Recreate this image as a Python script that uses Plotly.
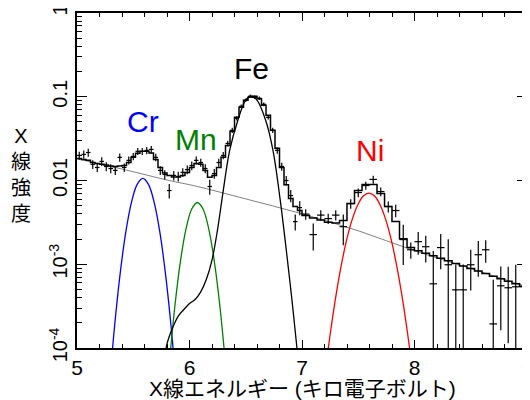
import math
import plotly.graph_objects as go

# ---------------- data ----------------
energy_low = [5.02, 5.06, 5.10, 5.14, 5.18, 5.22, 5.26, 5.30, 5.34, 5.38,
              5.42, 5.46, 5.50, 5.54, 5.58, 5.62, 5.66, 5.70, 5.74, 5.78,
              5.82, 5.86, 5.90, 5.94, 5.98, 6.02, 6.06, 6.10, 6.14, 6.18,
              6.22, 6.26, 6.30, 6.34, 6.38, 6.42, 6.46, 6.50, 6.54, 6.58,
              6.62, 6.66, 6.70, 6.74, 6.78, 6.82, 6.86, 6.90, 6.94, 6.98]
model_low = [0.0183, 0.0178, 0.0174, 0.0164, 0.0160, 0.0156, 0.0153, 0.0149, 0.0147, 0.0149,
             0.0151, 0.0164, 0.0189, 0.0211, 0.0223, 0.0223, 0.0213, 0.0178, 0.0143, 0.0123,
             0.0115, 0.0110, 0.0110, 0.0115, 0.0125, 0.0143, 0.0160, 0.0156, 0.0132, 0.0109,
             0.0115, 0.0143, 0.0189, 0.0262, 0.0386, 0.0568, 0.0748, 0.0908, 0.0987, 0.1014,
             0.0945, 0.0791, 0.0602, 0.0397, 0.0242, 0.0143, 0.0089, 0.00609, 0.00488, 0.00438]
data_low = [0.0199, 0.0205, 0.0216, 0.0156, 0.0143, 0.0169, 0.0147, 0.0139, 0.0132, 0.0189,
            0.0143, 0.0174, 0.0194, 0.0223, 0.0223, 0.0229, 0.0235, 0.0189, 0.0132, 0.0118,
            0.00759, 0.0115, 0.0112, 0.0125, 0.0135, 0.0151, 0.0174, 0.0164, 0.0139, 0.00848,
            0.0121, 0.0164, 0.0199, 0.0277, 0.0397, 0.0553, 0.0769, 0.0908, 0.1014, 0.0987,
            0.0960, 0.0813, 0.0568, 0.0397, 0.0229, 0.0147, 0.0100, 0.00661, 0.00323, 0.00475]
err_low = [0.0022, 0.0023, 0.0024, 0.0019, 0.0017, 0.0020, 0.0018, 0.0017, 0.0016, 0.0021,
           0.0017, 0.0019, 0.0019, 0.0022, 0.0022, 0.0023, 0.0024, 0.0019, 0.0016, 0.0015,
           0.0015, 0.0015, 0.0015, 0.0015, 0.0016, 0.0018, 0.0019, 0.0018, 0.0017, 0.0017,
           0.0016, 0.0018, 0.0020, 0.0022, 0.0028, 0.0033, 0.0038, 0.0045, 0.0051, 0.0049,
           0.0048, 0.0041, 0.0034, 0.0028, 0.0021, 0.0016, 0.0013, 0.0011, 0.0007, 0.0009]
halfwidth_low = 0.02

energy_high = [7.033, 7.100, 7.167, 7.233, 7.300, 7.367, 7.433, 7.500, 7.567, 7.633,
               7.700, 7.767, 7.833, 7.900, 7.967, 8.033, 8.100, 8.167, 8.233, 8.300,
               8.367, 8.433, 8.500, 8.567, 8.633, 8.700, 8.767, 8.833, 8.900, 8.967]
model_high = [0.00381, 0.00356, 0.00337, 0.00318, 0.00310, 0.00332, 0.00530, 0.00759, 0.00896, 0.00896,
              0.00698, 0.00489, 0.00323, 0.00202, 0.00158, 0.00145, 0.00135, 0.00126, 0.00118, 0.00110,
              0.00102, 0.000955, 0.000889, 0.000830, 0.000774, 0.000720, 0.000673, 0.000628, 0.000584, 0.000546]
data_high = [0.00397, 0.00226, 0.00386, 0.00351, 0.00386, 0.00281, 0.00530, 0.00718, 0.00871, 0.0103,
             0.00738, 0.00489, 0.00438, 0.00197, 0.00149, 0.00186, 0.00162, 0.000584, 0.00158, 0.000986,
             0.000495, 0.000495, 0.000986, 0.00130, 0.00149, 0.000194, 0.000553, 0.000524, 0.000538, 0.000538]
err_high = [0.00056, 0.0008, 0.00054, 0.00049, 0.00054, 0.00112, 0.00069, 0.00086, 0.00096, 0.00113,
            0.00089, 0.00073, 0.00074, 0.00099, 0.00033, 0.00056, 0.00057, 0.00086, 0.00071, 0.0010,
            0.0005, 0.0005, 0.0005, 0.00059, 0.00045, 0.00046, 0.00039, 0.00041, 0.00045, 0.00043]
halfwidth_high = 0.0333
energy_max = 9.0

cont_energy = [5.0, 5.42, 5.82, 6.05, 6.5, 6.98, 7.5, 8.0, 8.5, 9.0]
cont_flux = [0.0182, 0.0135, 0.0100, 0.00861, 0.00603, 0.00407, 0.00251, 0.00145, 0.00089, 0.000537]

cr_energy = [5.285, 5.335, 5.385, 5.435, 5.485, 5.535, 5.585, 5.635, 5.685, 5.735, 5.785, 5.835, 5.885]
cr_flux = [3.2e-5, 1.88e-4, 8.0e-4, 2.48e-3, 5.56e-3, 9.0e-3, 1.06e-2, 9.0e-3, 5.56e-3, 2.48e-3, 8.0e-4, 1.88e-4, 3.2e-5]

mn_energy = [5.79, 5.82, 5.87, 5.92, 5.97, 6.02, 6.07, 6.12, 6.17, 6.22, 6.27, 6.32, 6.35]
mn_flux = [2.1e-5, 6.4e-5, 3.17e-4, 1.10e-3, 2.68e-3, 4.57e-3, 5.46e-3, 4.57e-3, 2.68e-3, 1.10e-3, 3.17e-4, 6.4e-5, 2.1e-5]

fe_energy = [5.78, 5.80, 5.85, 5.90, 5.95, 6.00, 6.05, 6.10, 6.15, 6.20, 6.25, 6.30, 6.357, 6.43,
             6.50, 6.55, 6.60, 6.677, 6.742, 6.807, 6.861, 6.91, 6.955, 6.98]
fe_flux = [7.9e-5, 1.12e-4, 1.74e-4, 2.40e-4, 2.88e-4, 3.39e-4, 3.80e-4, 4.68e-4, 6.61e-4, 1.12e-3,
           2.63e-3, 7.59e-3, 0.0229, 0.0525, 0.0912, 0.1014, 0.0912, 0.0525, 0.0229, 5.75e-3,
           1.45e-3, 3.80e-4, 1.0e-4, 4.5e-5]

ni_energy = [7.195, 7.245, 7.295, 7.345, 7.395, 7.445, 7.495, 7.545, 7.595, 7.645, 7.695,
             7.745, 7.795, 7.845, 7.895, 7.945, 7.995]
ni_flux = [3.8e-5, 1.29e-4, 3.7e-4, 9.1e-4, 1.91e-3, 3.39e-3, 5.1e-3, 6.52e-3, 7.08e-3, 6.52e-3,
           5.1e-3, 3.39e-3, 1.91e-3, 9.1e-4, 3.7e-4, 1.29e-4, 3.8e-5]

element_labels = ["Cr", "Mn", "Fe", "Ni"]
label_energy = [5.583, 6.054, 6.552, 7.602]
label_flux = [0.0509, 0.0310, 0.219, 0.0229]
label_colors = ["#0000ff", "#008000", "#000000", "#ff0000"]

x_title = "X線エネルギー (キロ電子ボルト)"
y_title = "X線強度"
y_tickvals = [1e-4, 1e-3, 1e-2, 1e-1, 1]
y_ticktext = ["10<sup>-4</sup>", "10<sup>-3</sup>", "0.01", "0.1", "1"]
x_tickvals = [5, 6, 7, 8, 9]

# ---------------- build ----------------
energy = energy_low + energy_high
model = model_low + model_high
data = data_low + data_high
err = err_low + err_high
halfw = [halfwidth_low] * len(energy_low) + [halfwidth_high] * len(energy_high)

step_x = [e - h for e, h in zip(energy, halfw)] + [energy_max]
step_y = model + [model[-1]]

FONT = "Liberation Sans, Arial, Noto Sans CJK JP, sans-serif"

fig = go.Figure()
fig.add_trace(go.Scatter(x=cont_energy, y=cont_flux, mode="lines",
                         line=dict(color="#808080", width=1, shape="spline"), hoverinfo="skip"))
for ex, fx, col in [(cr_energy, cr_flux, "#0000ff"), (mn_energy, mn_flux, "#008000"),
                    (fe_energy, fe_flux, "#000000"), (ni_energy, ni_flux, "#ff0000")]:
    fig.add_trace(go.Scatter(x=ex, y=fx, mode="lines",
                             line=dict(color=col, width=1.3, shape="spline")))
fig.add_trace(go.Scatter(x=step_x, y=step_y, mode="lines",
                         line=dict(color="black", width=1.5, shape="hv")))
fig.add_trace(go.Scatter(x=energy, y=data, mode="markers",
                         marker=dict(size=1, color="black"),
                         error_x=dict(type="data", array=halfw, color="black", thickness=1.2, width=0),
                         error_y=dict(type="data", array=err, color="black", thickness=1.2, width=0)))

minor_y = [k * 10.0 ** e for e in range(-4, 0) for k in range(2, 10)]

# page body has an 8px margin, so the figure is sized to fit the 530x400 window
fig.update_layout(
    width=522, height=392,
    margin=dict(l=69, r=3, t=5, b=52, autoexpand=False),
    paper_bgcolor="white", plot_bgcolor="white",
    showlegend=False,
    font=dict(family=FONT, size=20, color="black"),
    xaxis=dict(range=[5, 9], tickvals=x_tickvals, ticks="inside", ticklen=8, tickwidth=1.2,
               tickcolor="black", showline=True, linecolor="black", linewidth=1.5, mirror="ticks",
               showgrid=False, zeroline=False, automargin=False, ticklabeloverflow="allow",
               minor=dict(dtick=0.2, tick0=5, ticks="inside", ticklen=4, tickwidth=1.2,
                          tickcolor="black", showgrid=False),
               tickfont=dict(size=21)),
    yaxis=dict(type="log", range=[-4, 0], tickvals=y_tickvals, ticktext=y_ticktext,
               tickangle=-90, ticks="inside", ticklen=10, tickwidth=1.2, tickcolor="black",
               showline=True, linecolor="black", linewidth=1.5, mirror="ticks",
               showgrid=False, zeroline=False, automargin=False, ticklabeloverflow="allow",
               minor=dict(tickmode="array", tickvals=minor_y, ticks="inside", ticklen=5,
                          tickwidth=1.2, tickcolor="black", showgrid=False),
               tickfont=dict(size=20)),
)

for txt, ex, fx, col in zip(element_labels, label_energy, label_flux, label_colors):
    fig.add_annotation(x=ex, y=math.log10(fx), xref="x", yref="y", text=txt, showarrow=False,
                       font=dict(size=30, color=col, family=FONT), xanchor="center", yanchor="middle")

fig.add_annotation(x=0.5, y=-0.12, xref="paper", yref="paper", text=x_title, showarrow=False,
                   font=dict(size=21, family=FONT), xanchor="center", yanchor="middle")
fig.add_annotation(x=-0.1235, y=0.516, xref="paper", yref="paper", text="<br>".join(list(y_title)),
                   showarrow=False, font=dict(size=20, family=FONT), xanchor="center", yanchor="middle")

fig.write_html("out.html")
